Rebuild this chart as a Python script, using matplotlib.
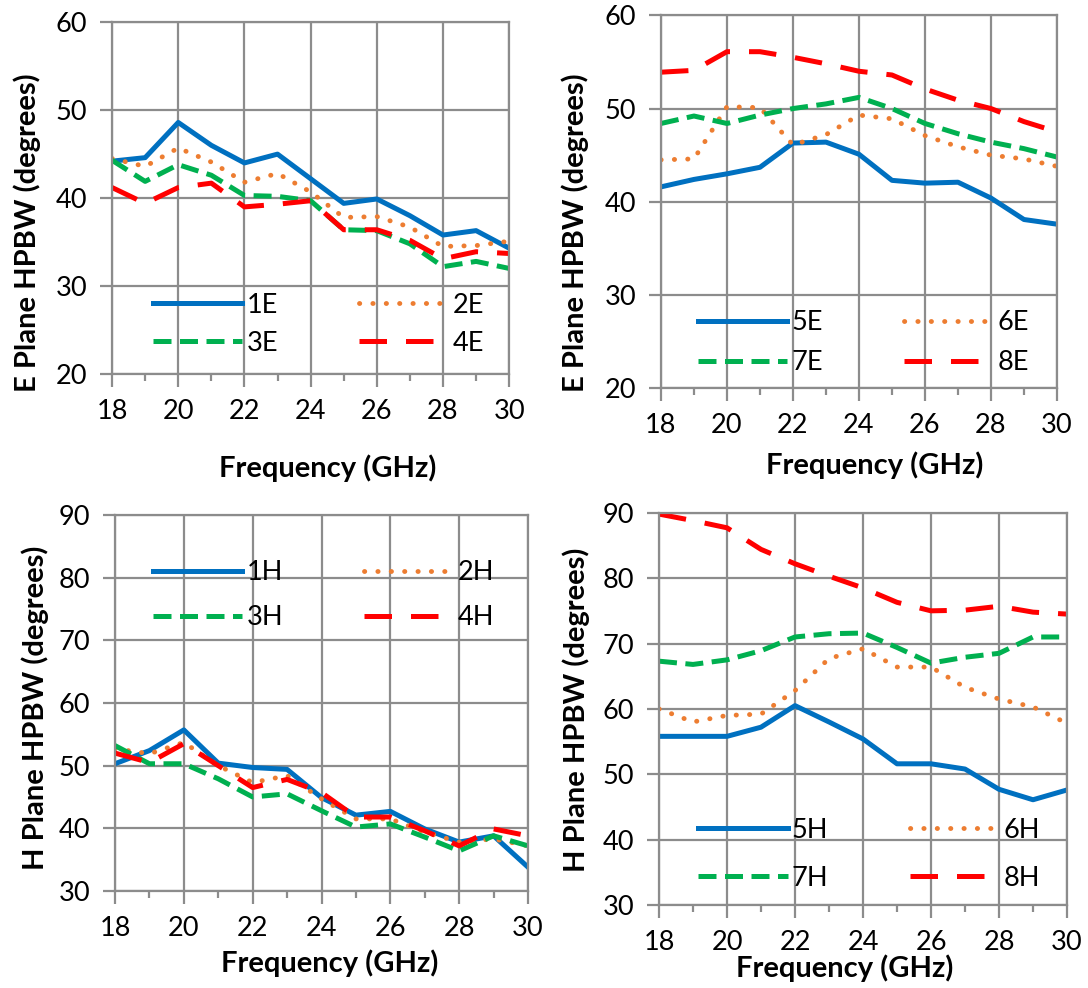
import matplotlib
matplotlib.use('Agg')
import matplotlib.pyplot as plt
from matplotlib.ticker import MultipleLocator

plt.rcParams['font.family'] = ['Lato', 'DejaVu Sans']

freq = [18, 19, 20, 21, 22, 23, 24, 25, 26, 27, 28, 29, 30]

# E plane, antennas 1-4
e1 = [44.2, 44.6, 48.6, 46.0, 44.0, 45.0, 42.2, 39.4, 39.9, 38.0, 35.8, 36.3, 34.3]
e2 = [44.5, 43.6, 45.7, 44.1, 41.8, 42.8, 40.7, 37.8, 37.9, 36.7, 34.5, 34.6, 35.1]
e3 = [44.3, 41.9, 43.8, 42.6, 40.3, 40.2, 39.7, 36.4, 36.3, 34.8, 32.2, 32.8, 32.0]
e4 = [41.2, 39.4, 41.2, 41.7, 39.0, 39.3, 39.7, 36.4, 36.4, 35.2, 33.1, 33.9, 33.7]

# E plane, antennas 5-8
e5 = [41.6, 42.4, 43.0, 43.7, 46.3, 46.4, 45.1, 42.3, 42.0, 42.1, 40.4, 38.1, 37.6]
e6 = [44.5, 44.6, 50.2, 50.1, 46.1, 47.2, 49.3, 48.9, 47.1, 45.9, 45.0, 44.6, 43.8]
e7 = [48.4, 49.2, 48.4, 49.3, 50.0, 50.5, 51.2, 50.0, 48.4, 47.3, 46.4, 45.7, 44.8]
e8 = [53.9, 54.1, 56.1, 56.1, 55.5, 54.8, 54.0, 53.6, 52.1, 50.9, 50.0, 48.6, 47.5]

# H plane, antennas 1-4
h1 = [50.3, 52.4, 55.7, 50.4, 49.7, 49.4, 44.9, 42.1, 42.7, 39.9, 37.8, 38.8, 33.8]
h2 = [52.7, 51.9, 53.7, 50.0, 47.3, 48.4, 44.7, 41.5, 41.5, 39.4, 37.8, 38.3, 37.2]
h3 = [53.2, 50.3, 50.3, 47.9, 45.0, 45.5, 42.8, 40.2, 40.7, 38.6, 36.4, 38.8, 37.2]
h4 = [52.0, 50.5, 53.5, 50.0, 46.5, 47.8, 45.7, 41.8, 41.8, 39.6, 37.2, 39.9, 38.8]

# H plane, antennas 5-8
h5 = [55.8, 55.8, 55.8, 57.2, 60.5, 58.0, 55.4, 51.6, 51.6, 50.8, 47.7, 46.1, 47.6]
h6 = [60.0, 58.0, 59.0, 59.2, 62.8, 67.7, 69.2, 66.4, 66.4, 63.3, 61.5, 60.3, 57.8]
h7 = [67.3, 66.8, 67.5, 68.9, 71.0, 71.5, 71.6, 69.4, 67.0, 67.9, 68.5, 71.0, 71.0]
h8 = [89.8, 88.8, 87.7, 84.4, 82.2, 80.3, 78.5, 76.3, 75.0, 75.1, 75.7, 74.8, 74.5]

colors = ['#0070C0', '#ED7D31', '#00B050', '#FF0000']
styles = [
    dict(linestyle='-', lw=3.6),
    dict(linestyle=(0, (0.05, 2.7)), lw=3.5, dash_capstyle='round'),
    dict(linestyle=(0, (3.6, 1.7)), lw=3.6),
    dict(linestyle=(0, (5.5, 3.8)), lw=3.6),
]

fig = plt.figure(figsize=(10.88, 9.88), dpi=100)

panels = [
    # rect, series, labels, ylim, ylabel, legend anchor, row spacing, xlabel pos, ylabel pos
    ([0.103, 0.6215, 0.365, 0.356], [e1, e2, e3, e4], ['1E', '2E', '3E', '4E'],
     (20, 60), 'E Plane HPBW (degrees)', (0.52, 0.142), 0.48, (0.543, -0.267), (-0.214, 0.403)),
    ([0.6075, 0.607, 0.364, 0.3775], [e5, e6, e7, e8], ['5E', '6E', '7E', '8E'],
     (20, 60), 'E Plane HPBW (degrees)', (0.512, 0.122), 0.55, (0.54, -0.206), (-0.217, 0.418)),
    ([0.1057, 0.0982, 0.3796, 0.3806], [h1, h2, h3, h4], ['1H', '2H', '3H', '4H'],
     (30, 90), 'H Plane HPBW (degrees)', (0.505, 0.786), 0.74, (0.52, -0.191), (-0.194, 0.487)),
    ([0.6057, 0.084, 0.375, 0.397], [h5, h6, h7, h8], ['5H', '6H', '7H', '8H'],
     (30, 90), 'H Plane HPBW (degrees)', (0.515, 0.13), 0.85, (0.456, -0.161), (-0.203, 0.497)),
]

for rect, series, labels, ylim, ylabel, leg_anchor, leg_sp, xl_pos, yl_pos in panels:
    ax = fig.add_axes(rect)
    lines = []
    for vals, lab, c, st in zip(series, labels, colors, styles):
        ln, = ax.plot(freq, vals, color=c, label=lab, **st)
        lines.append(ln)
    ax.set_xlim(18, 30)
    ax.set_ylim(*ylim)
    ax.xaxis.set_major_locator(MultipleLocator(2))
    ax.xaxis.set_minor_locator(MultipleLocator(1))
    ax.yaxis.set_major_locator(MultipleLocator(10))
    ax.grid(True, which='major', color='#8c8c8c', lw=1.6)
    ax.set_axisbelow(True)
    for s in ax.spines.values():
        s.set_color('#8c8c8c')
        s.set_linewidth(1.6)
    ax.tick_params(which='major', direction='out', length=9, width=1.6, color='#8c8c8c',
                   labelsize=19.5, pad=9)
    ax.tick_params(which='minor', direction='out', length=5, width=1.6, color='#8c8c8c')
    ax.set_xlabel('Frequency (GHz)', fontsize=21, fontweight='bold', va='center')
    ax.xaxis.set_label_coords(*xl_pos)
    ax.set_ylabel(ylabel, fontsize=21, fontweight='bold', va='center')
    ax.yaxis.set_label_coords(*yl_pos)
    # row-wise legend order: 1 2 / 3 4
    order = [0, 2, 1, 3]
    ax.legend([lines[i] for i in order], [labels[i] for i in order],
              loc='center', bbox_to_anchor=leg_anchor, ncol=2, frameon=False,
              fontsize=19.5, handlelength=3.3, columnspacing=3.0, handletextpad=0.15,
              labelspacing=leg_sp)

plt.savefig('out.png', dpi=100)
